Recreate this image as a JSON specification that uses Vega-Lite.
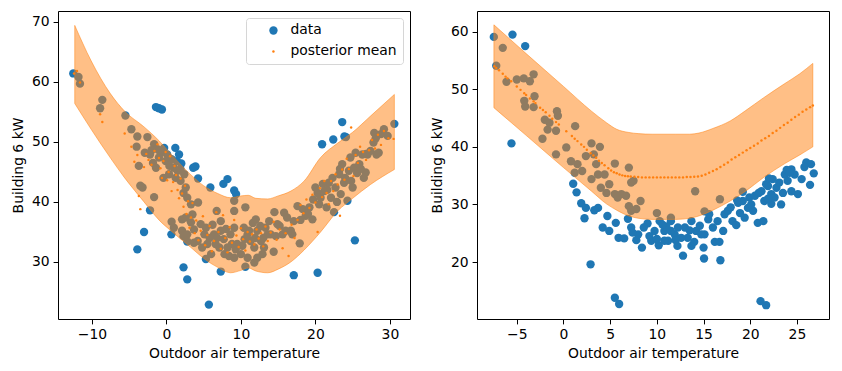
{
  "$schema": "https://vega.github.io/schema/vega-lite/v6.json",
  "background": "white",
  "padding": {"left": 10, "top": 10, "right": 5, "bottom": 5},
  "spacing": 18,
  "resolve": {"scale": {"color": "independent", "size": "independent"}, "legend": {"color": "independent", "size": "independent"}},
  "config": {
    "view": {"stroke": "black", "strokeWidth": 1},
    "font": "DejaVu Sans",
    "axis": {"domain": false, "grid": false, "tickColor": "black", "tickSize": 4.9, "tickWidth": 1, "labelFont": "DejaVu Sans", "labelFontSize": 13.9, "labelColor": "black", "labelPadding": 4, "titleFont": "DejaVu Sans", "titleFontSize": 13.9, "titleFontWeight": "normal", "titleColor": "black"},
    "axisX": {"titlePadding": 5},
    "axisY": {"titlePadding": 6},
    "legend": {"orient": "top-right", "offset": 7, "padding": 5.5, "fillColor": "white", "strokeColor": "#d6d6d6", "cornerRadius": 3, "labelFont": "DejaVu Sans", "labelFontSize": 13.9, "labelColor": "black", "rowPadding": 6, "symbolOffset": 15, "labelOffset": 10, "symbolStrokeWidth": 0}
  },
  "datasets": {
    "left_data": [
      {"x":-12.5,"y":61.4},{"x":-3.9,"y":32.1},{"x":-3.0,"y":35.0},{"x":-2.2,"y":38.6},{"x":-1.4,"y":55.8},{"x":-1.0,"y":55.6},{"x":-0.6,"y":55.4},{"x":0.67,"y":34.6},{"x":0.7,"y":36.7},{"x":1.0,"y":35.7},{"x":1.2,"y":49.0},{"x":1.7,"y":47.9},{"x":2.3,"y":29.1},{"x":2.8,"y":27.1},{"x":2.3,"y":34.3},{"x":2.8,"y":33.4},{"x":3.9,"y":45.9},{"x":4.25,"y":43.9},{"x":3.6,"y":45.7},{"x":5.7,"y":22.9},{"x":5.3,"y":30.5},{"x":5.9,"y":42.4},{"x":7.3,"y":28.4},{"x":7.65,"y":43.0},{"x":8.2,"y":43.8},{"x":9.1,"y":41.9},{"x":9.35,"y":41.3},{"x":10.6,"y":29.2},{"x":17.1,"y":27.8},{"x":20.3,"y":28.2},{"x":20.9,"y":49.6},{"x":22.4,"y":50.4},{"x":23.6,"y":53.3},{"x":23.9,"y":50.9},{"x":25.3,"y":33.6},{"x":30.6,"y":53.0},
      {"x":-11.8,"y":60.8},{"x":-11.6,"y":59.7},{"x":-8.9,"y":55.6},{"x":-8.6,"y":57.0},{"x":-5.5,"y":54.4},{"x":-4.7,"y":52.1},{"x":-3.9,"y":50.9},{"x":-4.0,"y":49.2},{"x":-3.7,"y":46.0},{"x":-3.5,"y":42.7},{"x":-3.2,"y":42.4},{"x":-2.55,"y":50.8},{"x":-2.9,"y":48.2},{"x":-2.2,"y":47.9},{"x":-1.65,"y":40.8},{"x":-1.65,"y":49.6},{"x":-1.2,"y":48.8},{"x":-0.76,"y":48.2},{"x":-0.3,"y":49.0},{"x":-1.4,"y":45.7},{"x":-1.0,"y":47.4},{"x":-0.1,"y":46.8},{"x":-0.4,"y":44.0},{"x":0.36,"y":44.6},{"x":0.1,"y":47.9},{"x":0.7,"y":47.1},{"x":1.0,"y":45.7},{"x":1.5,"y":45.2},{"x":1.9,"y":45.4},{"x":1.25,"y":44.0},{"x":1.9,"y":43.5},{"x":2.4,"y":44.6},{"x":2.6,"y":42.4},{"x":2.3,"y":41.5},{"x":2.8,"y":40.7},{"x":3.3,"y":39.6},{"x":4.25,"y":39.9},{"x":3.5,"y":37.9},{"x":2.1,"y":37.1},{"x":2.1,"y":35.2},{"x":2.8,"y":34.6},{"x":3.7,"y":35.4},{"x":4.6,"y":36.3},{"x":4.2,"y":33.5},{"x":5.1,"y":34.6},{"x":5.5,"y":33.0},{"x":4.8,"y":32.4},{"x":6.0,"y":31.3},{"x":6.6,"y":33.0},{"x":6.75,"y":38.5},{"x":7.3,"y":36.8},{"x":7.3,"y":35.2},{"x":7.7,"y":33.8},{"x":8.2,"y":32.4},{"x":8.6,"y":34.6},{"x":8.4,"y":31.0},{"x":9.1,"y":35.7},{"x":9.1,"y":40.2},{"x":9.1,"y":38.5},{"x":9.5,"y":33.0},{"x":10.0,"y":31.3},{"x":10.4,"y":35.7},{"x":10.6,"y":39.1},{"x":10.9,"y":34.6},{"x":11.3,"y":33.5},{"x":11.8,"y":29.9},{"x":12.0,"y":37.1},{"x":12.2,"y":35.2},{"x":12.7,"y":33.5},{"x":12.9,"y":31.3},{"x":13.3,"y":35.7},{"x":14.0,"y":34.6},{"x":14.4,"y":31.7},{"x":14.5,"y":38.3},{"x":14.9,"y":36.3},{"x":15.6,"y":34.6},{"x":15.8,"y":38.2},{"x":16.2,"y":37.4},{"x":16.7,"y":35.2},{"x":17.1,"y":36.8},{"x":16.9,"y":34.6},{"x":17.9,"y":33.1},{"x":17.6,"y":39.3},{"x":18.3,"y":38.8},{"x":18.7,"y":37.7},{"x":19.2,"y":39.1},{"x":19.6,"y":37.1},{"x":19.7,"y":40.4},{"x":20.0,"y":42.4},{"x":20.5,"y":39.6},{"x":20.7,"y":40.7},{"x":21.2,"y":41.8},{"x":21.5,"y":39.1},{"x":21.8,"y":43.2},{"x":22.1,"y":40.7},{"x":22.5,"y":38.3},{"x":22.7,"y":42.4},{"x":23.2,"y":44.6},{"x":23.4,"y":41.3},{"x":23.6,"y":46.3},{"x":23.85,"y":43.2},{"x":24.3,"y":40.2},{"x":24.5,"y":45.2},{"x":24.7,"y":47.4},{"x":25.0,"y":42.4},{"x":25.2,"y":45.7},{"x":25.4,"y":48.2},{"x":25.9,"y":46.3},{"x":26.3,"y":47.9},{"x":26.75,"y":44.9},{"x":26.5,"y":44.0},{"x":27.0,"y":47.9},{"x":27.4,"y":48.5},{"x":27.8,"y":49.9},{"x":27.9,"y":51.5},{"x":28.2,"y":47.9},{"x":28.5,"y":48.2},{"x":28.8,"y":51.3},{"x":29.2,"y":52.1},{"x":29.7,"y":51.0},{"x":24.1,"y":50.8},
      {"x":5.3,"y":35.7},{"x":6.4,"y":34.6},{"x":7.1,"y":32.4},{"x":7.8,"y":31.3},{"x":9.3,"y":32.1},{"x":10.2,"y":32.7},{"x":11.1,"y":35.2},{"x":11.8,"y":32.4},{"x":13.1,"y":32.4},{"x":13.6,"y":34.6},{"x":14.7,"y":34.3},{"x":16.0,"y":35.2},{"x":9.1,"y":30.7},{"x":10.9,"y":30.7},{"x":12.2,"y":30.7},{"x":3.7,"y":33.2},{"x":3.3,"y":36.6},{"x":2.6,"y":37.4},
      {"x":20.3,"y":41.5},{"x":21.0,"y":43.0},{"x":21.6,"y":42.0},{"x":22.3,"y":44.0},{"x":22.9,"y":40.0},{"x":23.3,"y":45.5},{"x":24.0,"y":44.0},{"x":24.8,"y":43.5},{"x":25.6,"y":44.8},{"x":26.1,"y":45.5},{"x":26.8,"y":48.0},{"x":28.1,"y":50.6},{"x":19.0,"y":38.0},{"x":18.0,"y":37.0},{"x":-0.9,"y":48.5},{"x":0.4,"y":46.0},{"x":1.4,"y":46.8},{"x":2.0,"y":46.4},{"x":-2.0,"y":48.6},{"x":-1.8,"y":46.5},{"x":6.2,"y":36.2},{"x":8.0,"y":35.5},{"x":11.6,"y":36.5},{"x":12.6,"y":36.0},{"x":13.8,"y":36.8},{"x":15.2,"y":36.0},{"x":10.5,"y":33.8},{"x":8.8,"y":33.0},{"x":11.9,"y":34.0},{"x":13.0,"y":34.0},{"x":6.8,"y":34.0},{"x":5.8,"y":34.0}
    ],
    "left_mean": [
      {"x":-12.4,"y":61.4},{"x":-12.0,"y":61.8},{"x":-11.6,"y":59.9},{"x":-8.9,"y":54.6},{"x":-8.6,"y":53.3},{"x":-5.6,"y":51.4},{"x":-4.7,"y":49.2},{"x":-4.3,"y":46.7},{"x":-3.9,"y":47.8},{"x":-3.7,"y":41.0},{"x":-3.5,"y":38.8},{"x":-3.0,"y":45.8},{"x":-2.7,"y":48.0},{"x":-2.4,"y":47.0},{"x":-2.0,"y":46.2},{"x":-1.6,"y":48.5},{"x":-1.2,"y":49.6},{"x":-1.0,"y":47.3},{"x":-0.8,"y":45.6},{"x":-0.6,"y":44.0},{"x":-0.4,"y":46.8},{"x":-0.1,"y":48.3},{"x":0.1,"y":43.6},{"x":0.3,"y":45.0},{"x":0.5,"y":47.6},{"x":0.7,"y":41.8},{"x":0.9,"y":43.3},{"x":1.1,"y":46.0},{"x":1.3,"y":44.5},{"x":1.5,"y":42.0},{"x":1.7,"y":40.6},{"x":1.9,"y":43.9},{"x":2.1,"y":41.4},{"x":2.3,"y":39.2},{"x":2.5,"y":42.7},{"x":2.7,"y":38.0},{"x":2.9,"y":40.1},{"x":3.1,"y":35.7},{"x":3.3,"y":37.4},{"x":3.5,"y":39.8},{"x":3.8,"y":34.8},{"x":4.0,"y":36.9},{"x":4.3,"y":33.6},{"x":4.6,"y":35.2},{"x":4.9,"y":37.6},{"x":5.2,"y":32.8},{"x":5.5,"y":34.5},{"x":5.8,"y":36.0},{"x":6.1,"y":31.8},{"x":6.4,"y":33.5},{"x":6.7,"y":38.3},{"x":7.0,"y":35.0},{"x":7.3,"y":32.2},{"x":7.6,"y":37.8},{"x":7.9,"y":34.0},{"x":8.2,"y":31.6},{"x":8.5,"y":35.8},{"x":8.8,"y":33.2},{"x":9.1,"y":37.0},{"x":9.4,"y":34.4},{"x":9.7,"y":32.5},{"x":10.0,"y":35.6},{"x":10.3,"y":33.8},{"x":10.6,"y":31.9},{"x":10.9,"y":35.0},{"x":11.2,"y":33.4},{"x":11.5,"y":34.6},{"x":11.8,"y":32.9},{"x":12.1,"y":35.4},{"x":12.4,"y":33.9},{"x":12.7,"y":34.8},{"x":13.0,"y":32.6},{"x":13.3,"y":35.9},{"x":13.6,"y":33.5},{"x":14.0,"y":34.9},{"x":14.4,"y":36.7},{"x":14.8,"y":33.7},{"x":15.2,"y":35.4},{"x":15.6,"y":32.3},{"x":16.0,"y":34.8},{"x":16.4,"y":31.0},{"x":16.8,"y":36.2},{"x":17.2,"y":34.0},{"x":17.6,"y":37.0},{"x":18.0,"y":39.5},{"x":18.4,"y":38.1},{"x":18.8,"y":40.4},{"x":19.2,"y":39.0},{"x":19.6,"y":41.2},{"x":20.0,"y":39.9},{"x":20.3,"y":35.0},{"x":20.6,"y":42.3},{"x":20.9,"y":40.8},{"x":21.2,"y":43.5},{"x":21.5,"y":41.5},{"x":21.8,"y":39.6},{"x":22.1,"y":43.5},{"x":22.4,"y":41.8},{"x":22.7,"y":44.6},{"x":23.0,"y":42.9},{"x":23.3,"y":37.7},{"x":23.6,"y":45.4},{"x":23.9,"y":43.7},{"x":24.2,"y":47.2},{"x":24.5,"y":45.5},{"x":24.8,"y":52.4},{"x":25.1,"y":44.3},{"x":25.4,"y":47.8},{"x":25.7,"y":46.5},{"x":26.0,"y":49.2},{"x":26.4,"y":48.3},{"x":26.8,"y":47.0},{"x":27.2,"y":48.6},{"x":27.6,"y":50.3},{"x":28.0,"y":48.9},{"x":28.4,"y":51.2},{"x":28.8,"y":49.5},{"x":29.2,"y":51.8},{"x":29.8,"y":50.6},{"x":30.5,"y":50.5}
    ],
    "left_band": [
      {"x":-12.3,"lo":56.4,"hi":69.4},{"x":-10.1,"lo":52.1,"hi":63.5},{"x":-7.5,"lo":47.3,"hi":58.0},{"x":-5.6,"lo":44.0,"hi":55.1},{"x":-3.0,"lo":40.0,"hi":52.5},{"x":-1.0,"lo":37.0,"hi":50.2},{"x":0.6,"lo":35.2,"hi":48.0},{"x":3.3,"lo":32.4,"hi":44.5},{"x":5.0,"lo":30.6,"hi":42.7},{"x":6.9,"lo":29.1,"hi":41.4},{"x":8.6,"lo":28.2,"hi":40.7},{"x":10.0,"lo":28.6,"hi":41.0},{"x":11.0,"lo":29.0,"hi":41.1},{"x":12.0,"lo":28.5,"hi":40.6},{"x":13.6,"lo":28.2,"hi":40.5},{"x":15.0,"lo":28.8,"hi":41.0},{"x":16.7,"lo":30.0,"hi":41.8},{"x":18.5,"lo":32.0,"hi":43.5},{"x":20.7,"lo":35.0,"hi":47.4},{"x":23.0,"lo":38.5,"hi":49.8},{"x":25.0,"lo":40.6,"hi":51.6},{"x":27.4,"lo":42.9,"hi":54.3},{"x":30.6,"lo":45.4,"hi":57.9}
    ],
    "right_data": [
      {"x":-7.46,"y":59.1},{"x":-5.46,"y":59.5},{"x":-4.1,"y":57.5},{"x":-5.57,"y":40.6},{"x":1.04,"y":33.6},{"x":1.4,"y":32.1},{"x":1.9,"y":30.2},{"x":2.4,"y":29.4},{"x":2.25,"y":27.6},{"x":3.7,"y":29.4},{"x":2.9,"y":19.6},{"x":4.7,"y":28.0},{"x":4.2,"y":26.0},{"x":4.9,"y":25.4},{"x":5.6,"y":26.8},{"x":5.9,"y":24.2},{"x":6.5,"y":24.1},{"x":5.5,"y":13.8},{"x":5.96,"y":12.7},{"x":7.25,"y":26.0},{"x":7.8,"y":23.8},{"x":8.4,"y":22.5},{"x":9.0,"y":26.7},{"x":9.75,"y":25.4},{"x":9.4,"y":23.7},{"x":10.2,"y":22.9},{"x":10.8,"y":25.4},{"x":11.2,"y":23.7},{"x":11.5,"y":27.1},{"x":11.9,"y":24.8},{"x":12.2,"y":22.8},{"x":12.8,"y":21.1},{"x":13.0,"y":26.0},{"x":13.3,"y":24.2},{"x":13.7,"y":22.8},{"x":14.2,"y":25.4},{"x":14.6,"y":26.3},{"x":15.0,"y":22.5},{"x":15.05,"y":20.6},{"x":15.1,"y":24.8},{"x":15.5,"y":27.4},{"x":16.0,"y":26.0},{"x":16.2,"y":23.5},{"x":16.7,"y":23.5},{"x":16.8,"y":20.3},{"x":17.1,"y":25.4},{"x":17.25,"y":28.3},{"x":17.6,"y":28.9},{"x":18.1,"y":27.1},{"x":18.5,"y":26.4},{"x":18.7,"y":30.3},{"x":19.4,"y":27.7},{"x":19.75,"y":29.4},{"x":19.9,"y":31.2},{"x":20.3,"y":28.9},{"x":20.5,"y":31.5},{"x":20.8,"y":26.8},{"x":21.4,"y":27.1},{"x":21.1,"y":13.2},{"x":21.7,"y":12.5},{"x":21.2,"y":32.3},{"x":21.5,"y":30.6},{"x":21.9,"y":33.2},{"x":22.25,"y":31.8},{"x":22.25,"y":30.1},{"x":22.8,"y":32.9},{"x":23.1,"y":33.8},{"x":23.3,"y":30.0},{"x":23.5,"y":32.0},{"x":23.7,"y":35.2},{"x":24.0,"y":34.1},{"x":24.4,"y":36.1},{"x":24.75,"y":35.2},{"x":25.1,"y":31.8},{"x":24.4,"y":32.3},{"x":25.5,"y":34.4},{"x":26.0,"y":37.3},{"x":26.4,"y":33.4},{"x":26.5,"y":37.0},{"x":26.8,"y":35.4},{"x":22.4,"y":34.4},{"x":21.7,"y":33.5},{"x":22.6,"y":31.2},{"x":20.1,"y":30.0},{"x":19.2,"y":30.6},{"x":16.5,"y":27.1},{"x":15.6,"y":28.3},{"x":12.25,"y":26.0},{"x":11.5,"y":25.4},{"x":13.7,"y":27.1},{"x":14.75,"y":24.8},{"x":10.3,"y":27.1},{"x":10.8,"y":23.7},{"x":12.6,"y":24.2},{"x":8.0,"y":24.8},{"x":7.4,"y":25.1},
      {"x":9.2,"y":24.5},{"x":10.0,"y":24.0},{"x":11.0,"y":26.2},{"x":12.0,"y":23.8},{"x":13.5,"y":25.5},{"x":14.0,"y":23.5},{"x":8.6,"y":26.0},{"x":10.6,"y":26.5},{"x":17.9,"y":29.5},{"x":18.9,"y":28.5},{"x":23.9,"y":36.0},{"x":24.2,"y":35.5},{"x":25.8,"y":36.5},{"x":22.0,"y":34.5},{"x":20.9,"y":32.0},{"x":21.9,"y":31.0},{"x":6.9,"y":27.5},{"x":3.3,"y":29.0},
      {"x":-7.2,"y":54.1},{"x":-6.5,"y":57.2},{"x":-6.1,"y":51.3},{"x":-5.0,"y":51.7},{"x":-4.25,"y":51.9},{"x":-3.6,"y":51.4},{"x":-3.2,"y":52.6},{"x":-3.1,"y":48.8},{"x":-4.2,"y":48.0},{"x":-4.1,"y":47.0},{"x":-3.2,"y":46.9},{"x":-0.7,"y":46.2},{"x":-0.6,"y":45.4},{"x":-2.0,"y":44.7},{"x":-1.5,"y":44.2},{"x":-1.7,"y":43.0},{"x":-0.8,"y":42.8},{"x":-2.25,"y":41.4},{"x":-0.8,"y":38.7},{"x":0.3,"y":39.9},{"x":1.25,"y":43.6},{"x":0.8,"y":37.5},{"x":1.5,"y":37.0},{"x":1.2,"y":35.5},{"x":2.0,"y":35.8},{"x":2.4,"y":38.4},{"x":3.0,"y":40.6},{"x":3.9,"y":40.0},{"x":3.25,"y":38.7},{"x":3.5,"y":37.0},{"x":3.0,"y":34.4},{"x":3.7,"y":35.2},{"x":4.4,"y":35.2},{"x":4.0,"y":32.9},{"x":4.6,"y":32.0},{"x":4.9,"y":33.5},{"x":5.5,"y":31.8},{"x":5.5,"y":37.1},{"x":5.8,"y":31.2},{"x":6.2,"y":31.8},{"x":6.7,"y":31.5},{"x":7.0,"y":36.4},{"x":7.25,"y":33.8},{"x":7.5,"y":34.1},{"x":7.0,"y":29.7},{"x":7.25,"y":28.9},{"x":7.8,"y":29.2},{"x":8.25,"y":30.6},{"x":10.0,"y":28.5},{"x":11.5,"y":27.7},{"x":14.1,"y":32.3},{"x":15.1,"y":28.8},{"x":16.75,"y":30.9},{"x":19.2,"y":32.2},{"x":18.6,"y":30.7}
    ],
    "right_mean": [
      {"x":-7.4,"y":54.0},{"x":-7.2,"y":53.7},{"x":-6.9,"y":53.3},{"x":-6.5,"y":52.7},{"x":-6.2,"y":52.2},{"x":-6.0,"y":51.9},{"x":-5.6,"y":51.4},{"x":-5.0,"y":50.5},{"x":-4.6,"y":49.9},{"x":-4.2,"y":49.3},{"x":-4.0,"y":49.0},{"x":-3.6,"y":48.4},{"x":-3.2,"y":47.9},{"x":-3.0,"y":47.6},{"x":-2.5,"y":46.8},{"x":-2.2,"y":46.4},{"x":-1.9,"y":46.0},{"x":-1.5,"y":45.4},{"x":-1.2,"y":44.9},{"x":-0.8,"y":44.3},{"x":-0.5,"y":43.9},{"x":0.3,"y":42.7},{"x":0.9,"y":41.9},{"x":1.2,"y":41.4},{"x":1.5,"y":41.0},{"x":1.9,"y":40.4},{"x":2.2,"y":40.0},{"x":2.5,"y":39.5},{"x":2.9,"y":38.9},{"x":3.2,"y":38.5},{"x":3.5,"y":38.1},{"x":3.8,"y":37.6},{"x":4.1,"y":37.2},{"x":4.4,"y":36.8},{"x":4.8,"y":36.3},{"x":5.1,"y":35.9},{"x":5.4,"y":35.6},{"x":5.7,"y":35.4},{"x":6.0,"y":35.2},{"x":6.3,"y":35.05},{"x":6.6,"y":34.95},{"x":6.9,"y":34.9},{"x":7.2,"y":34.85},{"x":7.6,"y":34.8},{"x":8.0,"y":34.75},{"x":8.4,"y":34.7},{"x":8.8,"y":34.7},{"x":9.2,"y":34.7},{"x":9.6,"y":34.7},{"x":10.0,"y":34.7},{"x":10.4,"y":34.7},{"x":10.8,"y":34.7},{"x":11.2,"y":34.7},{"x":11.6,"y":34.7},{"x":12.0,"y":34.7},{"x":12.4,"y":34.7},{"x":12.8,"y":34.7},{"x":13.2,"y":34.75},{"x":13.6,"y":34.75},{"x":14.0,"y":34.8},{"x":14.4,"y":34.85},{"x":14.8,"y":35.0},{"x":15.2,"y":35.2},{"x":15.6,"y":35.5},{"x":16.0,"y":35.8},{"x":16.4,"y":36.1},{"x":16.8,"y":36.5},{"x":17.2,"y":36.9},{"x":17.6,"y":37.3},{"x":18.0,"y":37.8},{"x":18.4,"y":38.2},{"x":18.8,"y":38.6},{"x":19.2,"y":39.0},{"x":19.6,"y":39.4},{"x":20.0,"y":39.8},{"x":20.4,"y":40.2},{"x":20.8,"y":40.6},{"x":21.2,"y":41.1},{"x":21.6,"y":41.5},{"x":22.0,"y":41.9},{"x":22.4,"y":42.4},{"x":22.8,"y":42.8},{"x":23.2,"y":43.3},{"x":23.6,"y":43.8},{"x":24.0,"y":44.2},{"x":24.4,"y":44.7},{"x":24.8,"y":45.2},{"x":25.2,"y":45.6},{"x":25.6,"y":46.1},{"x":26.0,"y":46.5},{"x":26.4,"y":46.9},{"x":26.7,"y":47.2}
    ],
    "right_band": [
      {"x":-7.45,"lo":46.8,"hi":61.2},{"x":-4.0,"lo":42.0,"hi":56.2},{"x":0.0,"lo":36.4,"hi":50.5},{"x":3.0,"lo":32.3,"hi":46.2},{"x":4.6,"lo":30.1,"hi":44.2},{"x":5.7,"lo":29.0,"hi":43.05},{"x":7.0,"lo":28.0,"hi":42.5},{"x":8.0,"lo":27.6,"hi":42.3},{"x":9.5,"lo":27.4,"hi":42.2},{"x":12.0,"lo":27.4,"hi":42.2},{"x":13.5,"lo":27.6,"hi":42.2},{"x":14.5,"lo":28.0,"hi":42.4},{"x":16.0,"lo":29.0,"hi":43.2},{"x":17.85,"lo":30.6,"hi":44.5},{"x":19.5,"lo":32.3,"hi":46.3},{"x":21.4,"lo":34.65,"hi":48.5},{"x":23.7,"lo":37.1,"hi":51.0},{"x":25.3,"lo":38.6,"hi":52.7},{"x":26.7,"lo":40.0,"hi":54.5}
    ],
    "legend_keys": [{"s": "data"}, {"s": "posterior mean"}]
  },
  "hconcat": [
    {
      "width": 352, "height": 308,
      "layer": [
        {
          "data": {"name": "left_data"},
          "mark": {"type": "circle", "opacity": 1, "color": "#1f77b4", "size": 70},
          "encoding": {
            "x": {"field": "x", "type": "quantitative", "scale": {"domain": [-14.55, 32.7], "nice": false, "zero": false}, "axis": {"title": "Outdoor air temperature", "values": [-10, 0, 10, 20, 30]}},
            "y": {"field": "y", "type": "quantitative", "scale": {"domain": [20.5, 71.8], "nice": false, "zero": false}, "axis": {"title": "Building 6 kW", "values": [30, 40, 50, 60, 70]}}
          }
        },
        {
          "data": {"name": "left_band"},
          "mark": {"type": "area", "interpolate": "monotone", "color": "#ff7f0e", "fillOpacity": 0.5, "stroke": "#ff7f0e", "strokeOpacity": 0.5, "strokeWidth": 1},
          "encoding": {
            "x": {"field": "x", "type": "quantitative"},
            "y": {"field": "lo", "type": "quantitative"},
            "y2": {"field": "hi"}
          }
        },
        {
          "data": {"name": "left_mean"},
          "mark": {"type": "circle", "opacity": 1, "color": "#ff7f0e", "size": 6},
          "encoding": {
            "x": {"field": "x", "type": "quantitative"},
            "y": {"field": "y", "type": "quantitative"}
          }
        },
        {
          "data": {"name": "legend_keys"},
          "mark": {"type": "circle", "opacity": 1, "clip": true},
          "encoding": {
            "x": {"datum": -100, "type": "quantitative"},
            "y": {"datum": 0, "type": "quantitative"},
            "color": {"field": "s", "type": "nominal", "scale": {"domain": ["data", "posterior mean"], "range": ["#1f77b4", "#ff7f0e"]}, "legend": {"title": null}},
            "size": {"field": "s", "type": "nominal", "scale": {"type": "ordinal", "domain": ["data", "posterior mean"], "range": [70, 6]}, "legend": {"title": null}}
          }
        }
      ]
    },
    {
      "width": 352, "height": 308,
      "layer": [
        {
          "data": {"name": "right_data"},
          "mark": {"type": "circle", "opacity": 1, "color": "#1f77b4", "size": 70},
          "encoding": {
            "x": {"field": "x", "type": "quantitative", "scale": {"domain": [-9.26, 28.43], "nice": false, "zero": false}, "axis": {"title": "Outdoor air temperature", "values": [-5, 0, 5, 10, 15, 20, 25]}},
            "y": {"field": "y", "type": "quantitative", "scale": {"domain": [10.1, 63.6], "nice": false, "zero": false}, "axis": {"title": "Building 6 kW", "values": [20, 30, 40, 50, 60]}}
          }
        },
        {
          "data": {"name": "right_band"},
          "mark": {"type": "area", "interpolate": "monotone", "color": "#ff7f0e", "fillOpacity": 0.5, "stroke": "#ff7f0e", "strokeOpacity": 0.5, "strokeWidth": 1},
          "encoding": {
            "x": {"field": "x", "type": "quantitative"},
            "y": {"field": "lo", "type": "quantitative"},
            "y2": {"field": "hi"}
          }
        },
        {
          "data": {"name": "right_mean"},
          "mark": {"type": "circle", "opacity": 1, "color": "#ff7f0e", "size": 6},
          "encoding": {
            "x": {"field": "x", "type": "quantitative"},
            "y": {"field": "y", "type": "quantitative"}
          }
        }
      ]
    }
  ]
}
